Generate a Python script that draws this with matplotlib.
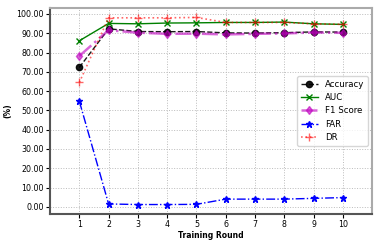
import matplotlib
matplotlib.use("Agg")
import matplotlib.pyplot as plt

rounds = [1, 2, 3, 4, 5, 6, 7, 8, 9, 10]
accuracy = [72.3, 92.3, 90.9, 90.8, 90.9, 90.2, 90.1, 90.3, 90.7, 90.6]
auc = [86.1, 95.1, 94.9, 95.3, 95.4, 95.6, 95.6, 95.8, 94.9, 94.6]
f1_score = [78.2, 91.6, 90.3, 89.7, 89.8, 89.4, 89.7, 89.9, 90.4, 90.2]
far = [54.8, 1.5, 1.2, 1.2, 1.3, 4.0, 4.0, 4.0, 4.4, 4.8]
dr = [64.5, 98.0, 98.0, 98.0, 98.2, 95.6, 95.6, 95.6, 94.9, 94.6]

fig, ax = plt.subplots(figsize=(3.82, 2.45), dpi=100)

ax.plot(rounds, accuracy, "k--o", markersize=4.5, linewidth=1, label="Accuracy", alpha=0.9)
ax.plot(rounds, auc, color="green", linestyle="-", marker="x", markersize=4.5,
        linewidth=1, label="AUC")
ax.plot(rounds, f1_score, color="m", linestyle="-.", marker="d", markersize=4.5,
        linewidth=1.8, alpha=0.6, label="F1 Score")
ax.plot(rounds, far, color="blue", linestyle="-.", marker="*", markersize=5,
        linewidth=1, label="FAR")
ax.plot(rounds, dr, color="red", linestyle=":", marker="+", markersize=5.5,
        linewidth=1.2, alpha=0.6, label="DR")

ax.set_xlim(0, 11)
ax.set_xticks(rounds)
ax.set_yticks(range(0, 101, 10))
ax.set_yticklabels([f"{v:.2f}" for v in range(0, 101, 10)])
ax.tick_params(labelsize=5.7, pad=1.5, length=3)
ax.grid(True, linestyle=":", linewidth=0.7, color="#bbbbbb")
ax.set_xlabel("Training Round", fontsize=5.5, fontweight="bold", labelpad=1)
ax.set_ylabel("(%)", fontsize=5.5, fontweight="bold", labelpad=3)
for s in ax.spines.values():
    s.set_linewidth(1.5)
    s.set_color("#555555")
ax.spines["top"].set_color("#aaaaaa")
ax.spines["right"].set_color("#aaaaaa")
ax.legend(loc="center right", fontsize=6.2, handlelength=2)

fig.subplots_adjust(left=0.131, right=0.974, top=0.967, bottom=0.127)
fig.savefig("out.png", dpi=100)
